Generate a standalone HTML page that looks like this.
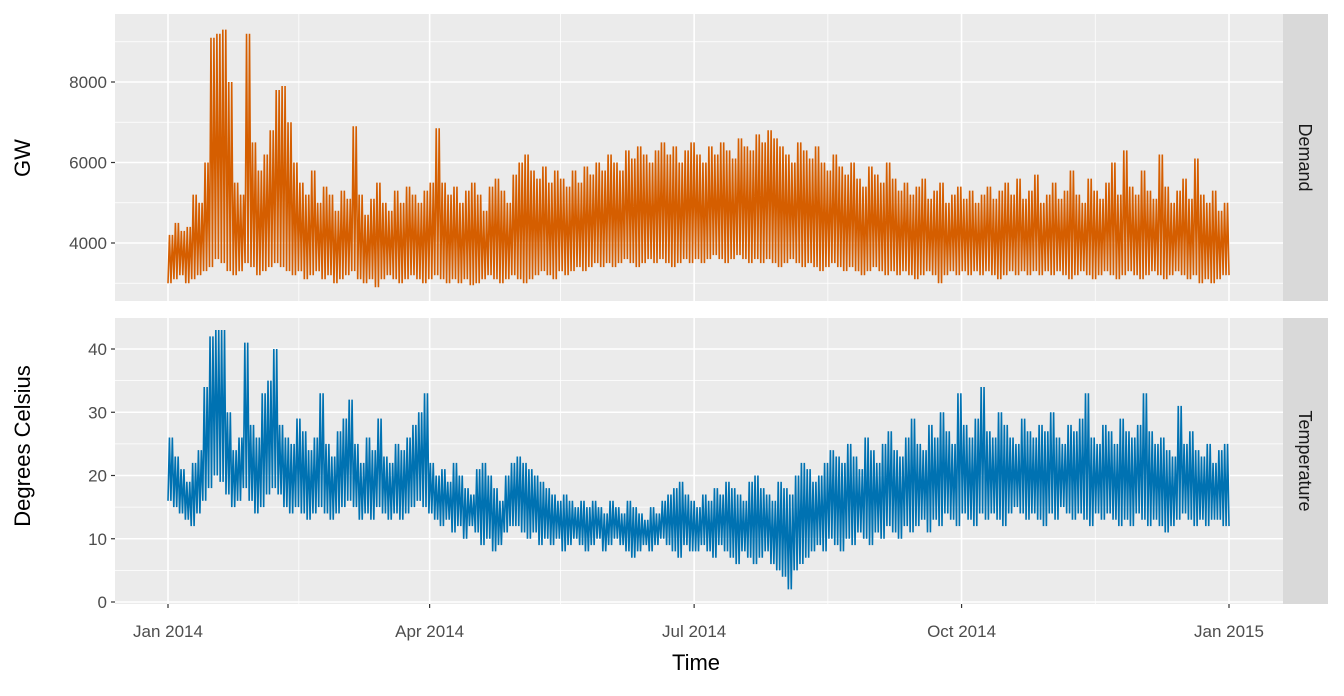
<!DOCTYPE html>
<html><head><meta charset="utf-8"><style>
body{margin:0;background:#fff;}
svg text{font-family:"Liberation Sans",sans-serif;}
</style></head><body>
<svg id="chart" width="1344" height="691" xmlns="http://www.w3.org/2000/svg">
<rect width="1344" height="691" fill="#fff"/>
<g id="panels"></g>
<text x="696" y="670" font-size="22" text-anchor="middle" fill="#000">Time</text>
<text x="0" y="0" transform="translate(30,158) rotate(-90)" font-size="22" text-anchor="middle" fill="#000">GW</text>
<text x="0" y="0" transform="translate(30,446) rotate(-90)" font-size="22" text-anchor="middle" fill="#000">Degrees Celsius</text>
</svg>
<script>
// periods spanning Jan 1 2014 - Jan 1 2015
const demandMax=[4200,4500,4300,4400,5200,5000,6000,9100,9200,9300,8000,5500,5200,9200,6500,5800,6200,6800,7800,7900,7000,6000,5500,5200,5800,5000,5400,5200,4800,5300,5100,6900,5200,4700,5100,5500,5000,4800,5300,5000,5400,5200,5000,5300,5500,6850,5500,5200,5400,5000,5300,5500,5200,4800,5400,5600,5300,5000,5700,6000,6200,5800,5600,5900,5500,5800,5600,5400,5800,5500,5900,5700,6000,5800,6200,6000,5800,6300,6100,6400,6200,6000,6300,6500,6200,6400,6000,6300,6500,6200,6000,6400,6200,6500,6300,6100,6600,6400,6300,6700,6500,6800,6600,6400,6200,6000,6500,6300,6100,6400,6000,5800,6200,5900,5700,6000,5600,5400,5900,5700,5500,6000,5600,5300,5500,5200,5400,5600,5100,5300,5500,5000,5200,5400,5100,5300,5000,5200,5400,5100,5300,5500,5200,5600,5100,5300,5700,5000,5200,5500,5100,5300,5800,5200,5000,5600,5300,5100,5500,6000,5200,6300,5400,5200,5800,5300,5100,6200,5400,5000,5300,5600,5100,6100,5200,5000,5300,4800,5000,4400,4200,4000,4400];
const demandMin=[3000,3100,3200,3000,3100,3200,3300,3400,3600,3500,3300,3200,3300,3500,3400,3200,3300,3400,3500,3400,3300,3200,3300,3100,3200,3300,3100,3200,3000,3100,3200,3300,3100,3000,3100,2900,3100,3200,3100,3000,3100,3200,3100,3000,3100,3200,3100,3000,3100,3000,3100,2950,3000,3100,3200,3100,3000,3100,3200,3100,3000,3100,3200,3300,3200,3100,3300,3200,3300,3400,3300,3400,3500,3400,3500,3400,3500,3600,3500,3400,3500,3600,3500,3600,3500,3400,3500,3600,3500,3600,3500,3600,3700,3600,3500,3600,3700,3600,3500,3600,3500,3600,3500,3400,3500,3600,3500,3400,3500,3400,3300,3400,3500,3400,3300,3400,3300,3200,3300,3400,3300,3200,3300,3200,3300,3200,3100,3200,3300,3200,3000,3200,3300,3200,3300,3200,3300,3200,3300,3200,3100,3200,3300,3200,3300,3200,3300,3200,3300,3200,3300,3200,3100,3200,3300,3200,3100,3200,3300,3200,3100,3200,3300,3200,3100,3200,3300,3200,3100,3200,3300,3200,3100,3200,3000,3100,3000,3100,3200];
const tempMax=[26,23,21,19,22,24,34,42,43,43,30,24,26,41,28,26,33,35,40,28,26,25,29,27,24,26,33,25,23,27,29,32,25,22,26,24,29,23,22,25,24,26,28,30,33,22,20,21,19,22,20,18,17,21,22,20,18,16,20,22,23,22,21,20,19,18,17,16,17,16,15,16,15,16,15,14,16,15,14,16,15,14,13,15,14,16,17,18,19,17,16,15,17,16,18,17,19,18,17,16,19,20,18,17,16,19,18,17,20,22,21,19,20,22,24,23,22,25,23,21,26,24,22,25,27,24,23,26,29,25,24,28,26,30,27,25,33,28,26,29,34,27,26,30,28,26,25,29,27,26,28,27,30,26,25,28,27,29,33,26,25,28,27,25,29,27,26,28,33,27,25,26,24,23,31,25,27,24,23,25,22,24,25];
const tempMin=[16,15,14,13,12,14,16,18,20,19,17,15,16,18,16,14,15,17,18,17,15,14,15,14,13,14,15,14,13,14,15,16,15,13,14,13,15,14,13,14,13,14,15,16,15,14,13,12,13,11,12,10,12,11,9,10,8,9,11,12,12,11,10,11,9,10,9,10,8,9,10,9,8,9,10,8,9,10,9,8,7,8,9,8,9,10,9,8,7,9,8,8,9,8,7,9,8,7,6,8,7,6,7,8,6,5,4,2,5,6,7,8,9,8,10,9,8,10,9,11,10,9,11,10,12,11,10,12,11,12,13,11,13,12,14,13,12,14,13,12,14,13,14,13,12,14,15,14,13,14,13,12,14,13,15,14,13,14,13,12,14,13,14,13,12,13,12,14,13,12,13,12,11,12,13,14,13,12,13,12,13,13,12];
const demandTicks=[4000,6000,8000];
const tempTicks=[0,10,20,30,40];
const xTickLabels=["Jan 2014","Apr 2014","Jul 2014","Oct 2014","Jan 2015"];
const xTickDays=[0,90,181,273,365];
const xMinorDays=[45,135,227,319];

const NS="http://www.w3.org/2000/svg";
const g=document.getElementById('panels');
const X0=115,X1=1283;
function xScale(d){return 168+d*(1229-168)/365;}
function el(tag,attrs,parent){const e=document.createElementNS(NS,tag);for(const k in attrs)e.setAttribute(k,attrs[k]);(parent||g).appendChild(e);return e;}

function panel(top,bot,yScale,ticks,minor,maxA,minA,color,strip,name){
  const bg=el('rect',{x:X0,y:top,width:X1-X0,height:bot-top,fill:'#EBEBEB'});
  
  
  minor.forEach(v=>{const y=yScale(v);if(y>top&&y<bot){const l=el('line',{x1:X0,x2:X1,y1:y,y2:y,stroke:'#fff','stroke-width':0.8});
    }});
  xMinorDays.forEach(d=>{const x=xScale(d);const l=el('line',{x1:x,x2:x,y1:top,y2:bot,stroke:'#fff','stroke-width':0.8});
    });
  ticks.forEach(v=>{const y=yScale(v);const l=el('line',{x1:X0,x2:X1,y1:y,y2:y,stroke:'#fff','stroke-width':1.6});
    
    const tk=el('line',{x1:X0-4,x2:X0,y1:y,y2:y,stroke:'#333','stroke-width':1.2});
    
    const t=el('text',{x:X0-8,y:y+6,'font-size':17,'text-anchor':'end',fill:'#4D4D4D'});t.textContent=v;
    });
  xTickDays.forEach(d=>{const x=xScale(d);const l=el('line',{x1:x,x2:x,y1:top,y2:bot,stroke:'#fff','stroke-width':1.6});
    });
  const n=Math.min(maxA.length,minA.length);
  const step=365/n;
  let pts=[];
  for(let i=0;i<n;i++){const d=i*step;
    pts.push(xScale(d)+','+yScale(minA[i]));
    pts.push(xScale(d+step*0.25)+','+yScale(maxA[i]));
    pts.push(xScale(d+step*0.5)+','+yScale(minA[i]));
    pts.push(xScale(d+step*0.75)+','+yScale(maxA[i]));}
  pts.push(xScale(365)+','+yScale(minA[n-1]));
  const p=el('polyline',{points:pts.join(' '),fill:'none',stroke:color,'stroke-width':1.6,'stroke-linejoin':'miter'});
  
  const sr=el('rect',{x:X1,y:top,width:45,height:bot-top,fill:'#D9D9D9'});
  
  const cy=(top+bot)/2;
  const st=el('text',{x:0,y:0,transform:`translate(${X1+16},${cy}) rotate(90)`,'font-size':18,'text-anchor':'middle',fill:'#1A1A1A'});
  st.textContent=strip;
}
const yD=v=>243-(v-4000)*0.04025;
const yT=v=>602-v*6.325;
panel(14,301,yD,demandTicks,[3000,5000,7000,9000],demandMax,demandMin,'#D55E00','Demand','demand');
panel(318,604,yT,tempTicks,[5,15,25,35,45],tempMax,tempMin,'#0072B2','Temperature','temperature');
xTickDays.forEach((d,i)=>{const x=xScale(d);
  const tk=el('line',{x1:x,x2:x,y1:604,y2:608,stroke:'#333','stroke-width':1.2});
  
  const t=el('text',{x:x,y:637,'font-size':17,'text-anchor':'middle',fill:'#4D4D4D'});t.textContent=xTickLabels[i];
  });
</script>
</body></html>
